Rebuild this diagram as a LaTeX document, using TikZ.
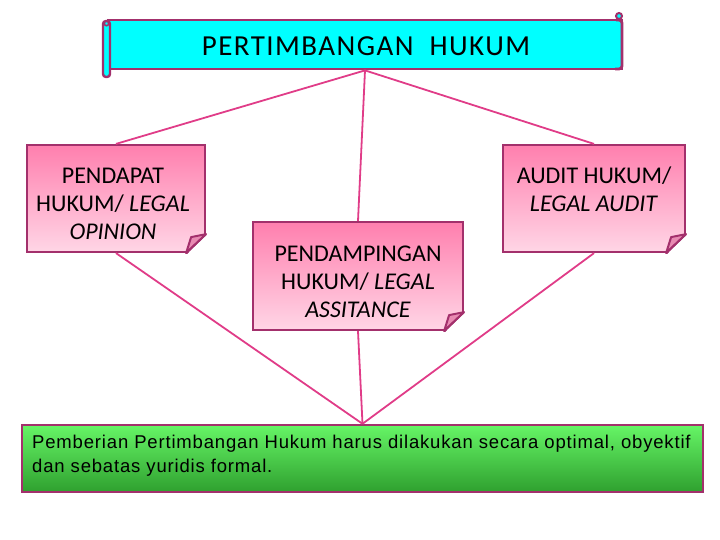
\documentclass[tikz,border=0pt]{standalone}
\usepackage{fontspec}
\setmainfont{Carlito}
\newfontfamily\arialf[LetterSpace=4.5]{Liberation Sans}
\newfontfamily\titlef[LetterSpace=5]{Carlito}
\definecolor{bord}{HTML}{A3306C}
\definecolor{lnk}{HTML}{E03C88}
\definecolor{aqua}{HTML}{00FFFF}
\definecolor{pinktop}{HTML}{FF7FAE}
\definecolor{pinkbot}{HTML}{FFD6E6}
\definecolor{greentop}{HTML}{66F566}
\definecolor{greenbot}{HTML}{2FA02F}
\definecolor{foldc}{HTML}{E88AB2}
\tikzset{
  pbox/.style={draw=bord, line width=2.2pt, top color=pinktop, bottom color=pinkbot, inner sep=0pt},
  ptext/.style={align=center, font=\fontsize{24}{28}\selectfont, inner sep=0pt, anchor=north},
  link/.style={draw=lnk, line width=1.8pt},
}
\newcommand{\foldcorner}[1]{%
  \fill[white] ([xshift=-20pt]#1.south east) -- ([xshift=2pt,yshift=-2pt]#1.south east) -- ([yshift=19pt]#1.south east) -- cycle;
  \draw[bord, line width=2.2pt] ([xshift=-20pt]#1.south east) -- ([xshift=-1.1pt]#1.south east) -- ([xshift=-1.1pt,yshift=-1.1pt]#1.south east);
  \draw[bord, line width=2pt, fill=foldc, line join=round]
    ([xshift=-20pt]#1.south east) -- ([yshift=19pt]#1.south east) -- ([xshift=-15pt,yshift=16pt]#1.south east) -- cycle;
  \fill[bord] ([xshift=-20pt,yshift=-1.1pt]#1.south east) rectangle ([xshift=0pt,yshift=1.1pt]#1.south east);
  \fill[white] ([xshift=-19pt,yshift=-1.1pt]#1.south east) -- ([xshift=1.2pt,yshift=-1.1pt]#1.south east) -- ([xshift=1.2pt,yshift=19pt]#1.south east) -- cycle;
  \draw[bord, line width=2pt, line join=round]
    ([xshift=-20pt]#1.south east) -- ([yshift=19pt]#1.south east);
}
\begin{document}
\begin{tikzpicture}[x=1pt,y=-1pt]
\useasboundingbox (0,0) rectangle (720,540);
% title scroll
\node[draw=bord, line width=2.8pt, fill=aqua, minimum width=514pt, minimum height=49pt,
  inner sep=0pt] (title) at (365,44.5) {};
\node[font=\titlef\fontsize{29}{33}\selectfont, inner sep=0pt] (titlet) at (366,46) {PERTIMBANGAN\ \ HUKUM};
\draw[bord, line width=2.4pt, fill=aqua, rounded corners=3pt] (103,21) rectangle (110,77);
\draw[bord, line width=1.6pt, fill=aqua] (106.5,23.5) circle (2.2pt);
\draw[bord, line width=2pt, fill=aqua] (619,16) circle (3pt);
\draw[bord, line width=2.8pt, rounded corners=3pt] (616,20) -- (622,20) -- (622,69) -- (615,69);
% boxes
\node[pbox, minimum width=178pt, minimum height=107pt] (op) at (116,198.5) {};
\node[ptext] (opt) at (113,168) {PENDAPAT\\HUKUM/ \textit{LEGAL}\\\textit{OPINION}};
\node[pbox, minimum width=210pt, minimum height=108pt] (as) at (358,276) {};
\node[ptext] (ast) at (358,246) {PENDAMPINGAN\\HUKUM/ \textit{LEGAL}\\\textit{ASSITANCE}};
\node[pbox, minimum width=182pt, minimum height=107pt] (au) at (594,198.5) {};
\node[ptext] (aut) at (594,167) {AUDIT HUKUM/\\\textit{LEGAL AUDIT}};
\foldcorner{op}
\foldcorner{as}
\foldcorner{au}
% bottom box
\node[draw=bord, line width=2.4pt, top color=greentop, bottom color=greenbot,
  minimum width=681pt, minimum height=67pt, inner sep=0pt] (bx) at (362.5,458.5) {};
\node[anchor=north west, inner sep=0pt, align=left, font=\arialf\fontsize{18.5}{24}\selectfont] (bxt) at (32,434.5)
  {Pemberian Pertimbangan Hukum harus dilakukan secara optimal, obyektif\\dan sebatas yuridis formal.};
% links
\draw[link] (title.south) -- (op.north);
\draw[link] (title.south) -- (au.north);
\draw[link] (title.south) -- (as.north);
\draw[link] (op.south) -- (bx.north);
\draw[link] (as.south) -- (bx.north);
\draw[link] (au.south) -- (bx.north);
\end{tikzpicture}
\end{document}
